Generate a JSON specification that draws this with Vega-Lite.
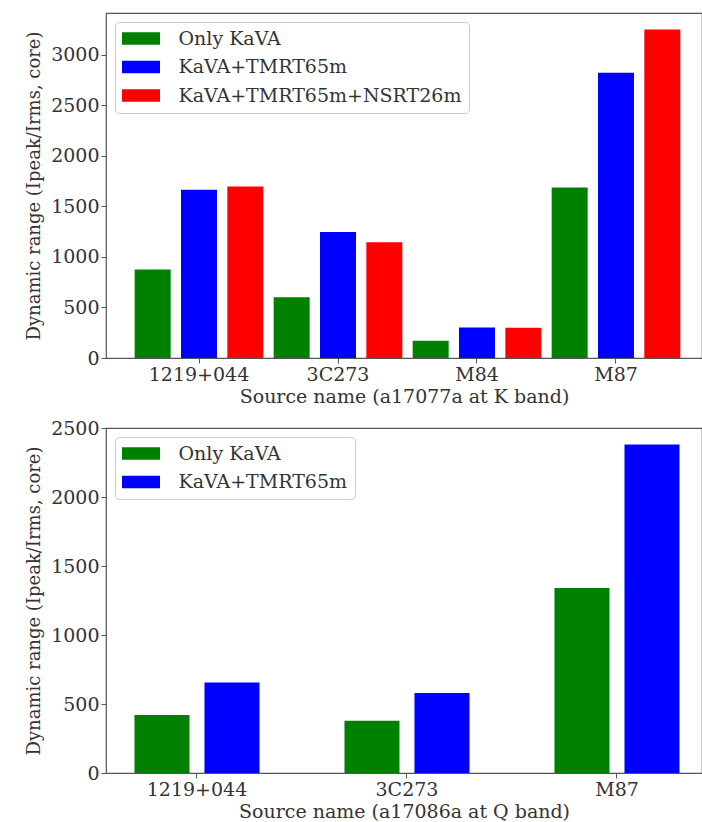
{
  "$schema": "https://vega.github.io/schema/vega-lite/v6.json",
  "padding": {"left": 25, "top": 12, "right": 0, "bottom": 2},
  "background": "white",
  "datasets": {
    "kband": [
      {"source": "1219+044", "config": "Only KaVA", "value": 875},
      {"source": "1219+044", "config": "KaVA+TMRT65m", "value": 1665},
      {"source": "1219+044", "config": "KaVA+TMRT65m+NSRT26m", "value": 1695},
      {"source": "3C273", "config": "Only KaVA", "value": 600},
      {"source": "3C273", "config": "KaVA+TMRT65m", "value": 1245},
      {"source": "3C273", "config": "KaVA+TMRT65m+NSRT26m", "value": 1145},
      {"source": "M84", "config": "Only KaVA", "value": 170},
      {"source": "M84", "config": "KaVA+TMRT65m", "value": 302},
      {"source": "M84", "config": "KaVA+TMRT65m+NSRT26m", "value": 300},
      {"source": "M87", "config": "Only KaVA", "value": 1685},
      {"source": "M87", "config": "KaVA+TMRT65m", "value": 2820},
      {"source": "M87", "config": "KaVA+TMRT65m+NSRT26m", "value": 3250}
    ],
    "qband": [
      {"source": "1219+044", "config": "Only KaVA", "value": 420},
      {"source": "1219+044", "config": "KaVA+TMRT65m", "value": 655},
      {"source": "3C273", "config": "Only KaVA", "value": 378},
      {"source": "3C273", "config": "KaVA+TMRT65m", "value": 580},
      {"source": "M87", "config": "Only KaVA", "value": 1340},
      {"source": "M87", "config": "KaVA+TMRT65m", "value": 2380}
    ]
  },
  "spacing": 11,
  "vconcat": [
    {
      "width": 596,
      "height": 345,
      "data": {"name": "kband"},
      "mark": {"type": "bar", "opacity": 1},
      "encoding": {
        "x": {
          "field": "source", "type": "nominal", "sort": ["1219+044", "3C273", "M84", "M87"],
          "title": "Source name (a17077a at K band)",
          "scale": {"paddingInner": 0, "paddingOuter": 0.1439, "align": 0.5875},
          "axis": {"labelAngle": 0}
        },
        "xOffset": {
          "field": "config", "type": "nominal",
          "sort": ["Only KaVA", "KaVA+TMRT65m", "KaVA+TMRT65m+NSRT26m"],
          "scale": {"paddingInner": 0.223, "paddingOuter": 0.1115}
        },
        "y": {
          "field": "value", "type": "quantitative",
          "title": "Dynamic range (Ipeak/Irms, core)",
          "scale": {"domain": [0, 3412], "nice": false, "zero": true},
          "axis": {"values": [0, 500, 1000, 1500, 2000, 2500, 3000], "format": "d"}
        },
        "color": {
          "field": "config", "type": "nominal",
          "sort": ["Only KaVA", "KaVA+TMRT65m", "KaVA+TMRT65m+NSRT26m"],
          "scale": {"domain": ["Only KaVA", "KaVA+TMRT65m", "KaVA+TMRT65m+NSRT26m"], "range": ["#008000", "#0000ff", "#ff0000"]},
          "legend": {"title": null, "orient": "top-left", "offset": 9}
        }
      }
    },
    {
      "width": 596,
      "height": 345,
      "data": {"name": "qband"},
      "mark": {"type": "bar", "opacity": 1},
      "encoding": {
        "x": {
          "field": "source", "type": "nominal", "sort": ["1219+044", "3C273", "M87"],
          "title": "Source name (a17086a at Q band)",
          "scale": {"paddingInner": 0.3333, "paddingOuter": 0.0857, "align": 0.583},
          "axis": {"labelAngle": 0}
        },
        "xOffset": {
          "field": "config", "type": "nominal",
          "sort": ["Only KaVA", "KaVA+TMRT65m"],
          "scale": {"paddingInner": 0.214, "paddingOuter": 0.107}
        },
        "y": {
          "field": "value", "type": "quantitative",
          "title": "Dynamic range (Ipeak/Irms, core)",
          "scale": {"domain": [0, 2500], "nice": false, "zero": true},
          "axis": {"values": [0, 500, 1000, 1500, 2000, 2500], "format": "d"}
        },
        "color": {
          "field": "config", "type": "nominal",
          "sort": ["Only KaVA", "KaVA+TMRT65m"],
          "scale": {"domain": ["Only KaVA", "KaVA+TMRT65m"], "range": ["#008000", "#0000ff"]},
          "legend": {"title": null, "orient": "top-left", "offset": 9}
        }
      }
    }
  ],
  "resolve": {
    "scale": {"color": "independent", "x": "independent", "y": "independent", "xOffset": "independent"},
    "legend": {"color": "independent"}
  },
  "config": {
    "font": "DejaVu Serif",
    "view": {"stroke": "#555555", "strokeWidth": 1.2},
    "axis": {
      "domain": false,
      "grid": false,
      "tickColor": "#555555",
      "tickSize": 5,
      "tickWidth": 1,
      "labelFont": "DejaVu Serif",
      "labelFontSize": 19,
      "labelColor": "#333333",
      "labelPadding": 2,
      "titleFont": "DejaVu Serif",
      "titleFontSize": 19,
      "titleFontWeight": "normal",
      "titleColor": "#333333"
    },
    "axisX": {"titlePadding": 3},
    "axisY": {"titlePadding": 7, "titleFontSize": 18},
    "legend": {
      "labelFont": "DejaVu Serif",
      "labelFontSize": 19,
      "labelColor": "#333333",
      "labelLimit": 500,
      "symbolType": "M-2,-0.65H2V0.65H-2Z",
      "symbolSize": 361,
      "symbolStrokeWidth": 0,
      "symbolOpacity": 1,
      "symbolOffset": 9.5,
      "labelOffset": 28,
      "rowPadding": 8.5,
      "padding": 7,
      "strokeColor": "#cccccc",
      "fillColor": "white",
      "cornerRadius": 4
    }
  }
}
